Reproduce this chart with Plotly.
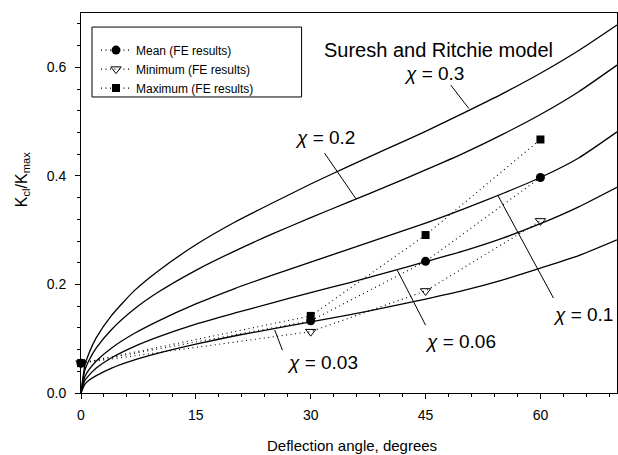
import plotly.graph_objects as go

# ---- data ----
angle = [0, 0.5, 1, 2, 4, 7, 10, 15, 20, 25, 30, 35, 40, 45, 50, 55, 60, 65, 70]
chi_030 = [0, 0.051, 0.072, 0.102, 0.143, 0.189, 0.224, 0.273, 0.314, 0.350, 0.385, 0.418, 0.450, 0.482, 0.516, 0.551, 0.589, 0.631, 0.678]
chi_020 = [0, 0.042, 0.059, 0.083, 0.117, 0.155, 0.185, 0.226, 0.261, 0.293, 0.323, 0.352, 0.381, 0.411, 0.442, 0.476, 0.513, 0.555, 0.604]
chi_010 = [0, 0.030, 0.042, 0.059, 0.083, 0.110, 0.132, 0.164, 0.192, 0.217, 0.241, 0.265, 0.289, 0.313, 0.339, 0.367, 0.397, 0.433, 0.481]
chi_006 = [0, 0.023, 0.032, 0.046, 0.065, 0.086, 0.103, 0.127, 0.147, 0.166, 0.185, 0.203, 0.222, 0.242, 0.262, 0.285, 0.312, 0.343, 0.379]
chi_003 = [0, 0.016, 0.023, 0.032, 0.046, 0.061, 0.073, 0.090, 0.105, 0.118, 0.131, 0.144, 0.158, 0.173, 0.189, 0.208, 0.230, 0.253, 0.282]

fe_angle = [0, 30, 45, 60]
fe_mean = [0.055, 0.133, 0.2425, 0.397]
fe_min = [0.055, 0.113, 0.188, 0.317]
fe_max = [0.055, 0.142, 0.291, 0.467]

curve_labels = ["χ = 0.3", "χ = 0.2", "χ = 0.1", "χ = 0.06", "χ = 0.03"]
x_ticks = [0, 15, 30, 45, 60]
y_ticks = [0.0, 0.2, 0.4, 0.6]

FONT = "Liberation Sans, Arial, sans-serif"

fig = go.Figure()

for ys in [chi_030, chi_020, chi_010, chi_006, chi_003]:
    fig.add_trace(go.Scatter(x=angle, y=ys, mode="lines", line=dict(color="black", width=1.3, shape="spline", smoothing=0.6),
                             showlegend=False, hoverinfo="skip"))

dots = "1px,3.5px"
fig.add_trace(go.Scatter(x=fe_angle, y=fe_mean, mode="lines+markers", name="Mean (FE results)",
                         line=dict(color="black", width=1.1, dash=dots),
                         marker=dict(symbol="circle", size=9, color="black"), cliponaxis=False))
fig.add_trace(go.Scatter(x=fe_angle, y=fe_min, mode="lines+markers", name="Minimum (FE results)",
                         line=dict(color="black", width=1.1, dash=dots),
                         marker=dict(symbol="triangle-down-open", size=9, color="black", line=dict(width=1)), cliponaxis=False))
fig.add_trace(go.Scatter(x=fe_angle, y=fe_max, mode="lines+markers", name="Maximum (FE results)",
                         line=dict(color="black", width=1.1, dash=dots),
                         marker=dict(symbol="square", size=8, color="black"), cliponaxis=False))

# label positions and leader lines (layout)
label_pos = [(46.1, 0.589), (31.9, 0.470), (65.5, 0.144), (49.5, 0.094), (31.5, 0.057)]
leaders = [((48.3, 0.567), (50.65, 0.524)),
           ((31.8, 0.442), (35.9, 0.358)),
           ((54.4, 0.365), (61.7, 0.175)),
           ((41.3, 0.2265), (45.0, 0.125)),
           ((25.3, 0.116), (26.3, 0.079))]

annotations = []
for txt, (lx, ly) in zip(curve_labels, label_pos):
    annotations.append(dict(x=lx, y=ly, xref="x", yref="y", text=txt.replace("χ", "<i>χ</i>"), showarrow=False,
                            font=dict(family=FONT, size=19, color="black"), xanchor="center", yanchor="middle"))
annotations.append(dict(x=46.7, y=0.632, xref="x", yref="y", text="Suresh and Ritchie model", showarrow=False,
                        font=dict(family=FONT, size=20, color="black"), xanchor="center", yanchor="middle"))
annotations.append(dict(x=0.505, y=-0.138, xref="paper", yref="paper", text="Deflection angle, degrees", showarrow=False,
                        font=dict(family=FONT, size=15, color="black"), xanchor="center", yanchor="middle"))
annotations.append(dict(x=-0.11, y=0.56, xref="paper", yref="paper", text="K<sub>cl</sub>/K<sub>max</sub>", showarrow=False,
                        textangle=-90, font=dict(family=FONT, size=16, color="black"), xanchor="center", yanchor="middle"))

shapes = []
for (a, b) in leaders:
    shapes.append(dict(type="line", xref="x", yref="y", x0=a[0], y0=a[1], x1=b[0], y1=b[1],
                       line=dict(color="black", width=1)))
shapes.append(dict(type="rect", xref="paper", yref="paper", x0=0.0205, x1=0.4115, y0=0.779, y1=0.963,
                   line=dict(color="black", width=1), fillcolor="rgba(0,0,0,0)"))

fig.update_layout(
    width=618, height=455,
    margin=dict(l=81, r=1, t=13, b=62),
    paper_bgcolor="white", plot_bgcolor="white",
    font=dict(family=FONT, color="black"),
    showlegend=True,
    legend=dict(x=0.028, y=0.9405, xanchor="left", yanchor="top", bgcolor="rgba(0,0,0,0)",
                borderwidth=0, font=dict(family=FONT, size=12, color="black"), tracegroupgap=0),
    annotations=annotations,
    shapes=shapes,
)
fig.update_xaxes(range=[0, 70], tickvals=x_ticks, ticks="outside", ticklen=5, tickcolor="black",
                 minor=dict(dtick=3, tick0=0, ticks="outside", ticklen=3, tickcolor="black"),
                 showline=True, linecolor="black", linewidth=1, mirror=True, showgrid=False, zeroline=False,
                 tickfont=dict(family=FONT, size=14, color="black"), ticklabelstandoff=4)
fig.update_yaxes(range=[0, 0.7], tickvals=y_ticks, tickformat=".1f", ticks="outside", ticklen=5, tickcolor="black",
                 minor=dict(dtick=0.04, tick0=0, ticks="outside", ticklen=3, tickcolor="black"),
                 showline=True, linecolor="black", linewidth=1, mirror=True, showgrid=False, zeroline=False,
                 tickfont=dict(family=FONT, size=14, color="black"), ticklabelstandoff=6)

fig.write_html("out.html")
